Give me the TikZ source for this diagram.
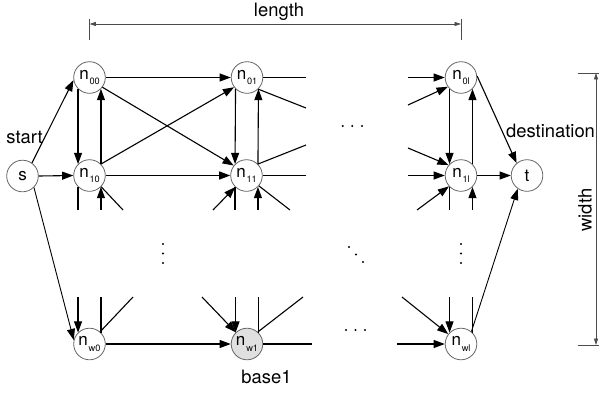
\documentclass[tikz,border=0pt]{standalone}
\usepackage{fontspec}
\setmainfont{TeX Gyre Heros}
\usetikzlibrary{arrows.meta}
\newcommand{\nsub}[1]{n\kern0.4pt\raisebox{-2.8pt}{\fontsize{4.6}{5}\selectfont #1}}
\begin{document}
\begin{tikzpicture}[x=0.5pt,y=-0.5pt,
  vtx/.style={circle,draw=black!60,line width=0.4pt,minimum size=15.8pt,inner sep=0pt,font=\fontsize{8.5}{9}\selectfont},
  arr/.style={-{Triangle[length=5.6pt,width=4pt]},line width=0.55pt},
  ln/.style={line width=0.55pt},
  dim/.style={{Triangle[length=3.2pt,width=2pt]}-{Triangle[length=3.2pt,width=2pt]},line width=0.35pt,draw=black!70},
  tickln/.style={line width=0.35pt,draw=black!70},
  lbl/.style={font=\fontsize{9.2}{10}\selectfont,inner sep=0pt},
  dotm/.style={fill=black,circle,inner sep=0pt,minimum size=1.1pt}
]
\useasboundingbox (0,0) rectangle (599,392);

% nodes
\node[vtx] (s) at (22.5,176) {s};
\node[vtx] (n00) at (89.5,77.5) {\nsub{00}};
\node[vtx] (n10) at (89.5,175.5) {\nsub{10}};
\node[vtx] (nw0) at (89.5,344) {\nsub{w0}};
\node[vtx] (n01) at (247,77.5) {\nsub{01}};
\node[vtx] (n11) at (246.5,175.5) {\nsub{11}};
\node[vtx,fill=black!12] (nw1) at (247,344) {\nsub{w1}};
\node[vtx] (n0l) at (461,77.5) {\nsub{0l}};
\node[vtx] (n1l) at (461,175.5) {\nsub{1l}};
\node[vtx] (nwl) at (461,344) {\nsub{wl}};
\node[vtx] (t) at (527,175.5) {t};

% labels
\node[lbl] (start) at (24.5,137) {start};
\node[lbl] (dest) at (550.5,130.5) {destination};
\node[lbl] (base) at (266.5,377) {base1};
\node[lbl,anchor=base] (len) at (279,16.5) {length};
\node[lbl,rotate=90] (wid) at (585,210) {width};

% helper coordinates
\coordinate (yb) at (0,210);
\coordinate (ya) at (0,297);
\coordinate (xr) at (306,0);
\coordinate (xl) at (408,0);
\coordinate (d10) at (123,210);
\coordinate (d0w) at (133,297);
\coordinate (e01d) at (306,108);
\coordinate (e11d) at (306,145);
\coordinate (f11) at (213,210);
\coordinate (g11) at (290,210);
\coordinate (f1w) at (202,297);
\coordinate (g1w) at (303,297);
\coordinate (h1w) at (312,344);
\coordinate (p0d) at (408,105);
\coordinate (p1u) at (408,148);
\coordinate (p1d) at (417,210);
\coordinate (pwd) at (402,297);
\coordinate (pwh) at (397,344);

% from s
\draw[arr] (s.54) -- (n00.189);
\draw[arr] (s.east) -- (n10.west);
\draw[arr,line width=0.45pt] (s.315) -- (nw0.166);

% column 0
\draw[arr] (n00.east) -- (n01.west);
\draw[arr] (n00.225) -- (n10.135);
\draw[arr] (n10.45) -- (n00.315);
\draw[arr] (n00.323) -- (n11.142);
\draw[arr] (n10.45) -- (n01.217);
\draw[arr,line width=0.8pt] (n10.east) -- (n11.west);
\draw[ln] (n10.225) -- (n10.225 |- yb);
\draw[arr] (n10.315 |- yb) -- (n10.315);
\draw[ln] (n10.316) -- (d10);
\draw[arr] (nw0.135 |- ya) -- (nw0.135);
\draw[ln] (nw0.45) -- (nw0.45 |- ya);
\draw[ln] (nw0.49) -- (d0w);
\draw[arr] (nw0.east) -- (nw1.west);

% column 1
\draw[arr] (n01.225) -- (n11.135);
\draw[arr] (n11.45) -- (n01.315);
\draw[ln] (n01.east) -- (n01.east -| xr);
\draw[ln] (n01.314) -- (e01d);
\draw[ln] (n11.45) -- (e11d);
\draw[ln] (n11.east) -- (n11.east -| xr);
\draw[arr] (f11) -- (n11);
\draw[ln] (n11.225) -- (n11.225 |- yb);
\draw[arr] (n11.315 |- yb) -- (n11.315);
\draw[ln] (n11.320) -- (g11);
\draw[arr] (f1w) -- (nw1);
\draw[arr] (nw1.135 |- ya) -- (nw1.135);
\draw[ln] (nw1.45) -- (nw1.45 |- ya);
\draw[ln] (nw1.48) -- (g1w);
\draw[ln] (nw1.east) -- (h1w);

% column l
\draw[arr] (n0l.west -| xl) -- (n0l.west);
\draw[arr] (p0d) -- (n0l.215);
\draw[arr] (n0l.225) -- (n1l.135);
\draw[arr] (n1l.45) -- (n0l.315);
\draw[arr] (n0l.5) -- (t.130);
\draw[arr] (p1u) -- (n1l.140);
\draw[arr] (n1l.west -| xl) -- (n1l.west);
\draw[arr] (p1d) -- (n1l.222);
\draw[ln] (n1l.225) -- (n1l.225 |- yb);
\draw[arr] (n1l.315 |- yb) -- (n1l.315);
\draw[arr] (n1l.east) -- (t.west);
\draw[arr] (pwd) -- (nwl.142);
\draw[arr] (nwl.135 |- ya) -- (nwl.135);
\draw[ln] (nwl.45) -- (nwl.45 |- ya);
\draw[arr,line width=0.45pt] (nwl.50) -- (t.235);
\draw[arr] (pwh) -- (nwl.west);

% ellipses
\foreach \x in {342.7,352.3,362}{\node[dotm] at (\x,126) {};}
\foreach \y in {244,253.5,263}{\node[dotm] at (163,\y) {};}
\foreach \x/\y in {349/247,356/254.5,363/262}{\node[dotm] at (\x,\y) {};}
\foreach \y in {244,253.5,263}{\node[dotm] at (461,\y) {};}
\foreach \x in {346,355.5,365}{\node[dotm] at (\x,330) {};}

% dimension: length
\coordinate (lenY) at (0,24);
\coordinate (tkT) at (0,19);
\coordinate (tkB) at (0,40);
\draw[tickln] (n00.center |- tkT) -- (n00.center |- tkB);
\draw[tickln] (n0l.center |- tkT) -- (n0l.center |- tkB);
\draw[dim] (n00.center |- lenY) -- (n0l.center |- lenY);

% dimension: width
\coordinate (wT) at (596,73);
\coordinate (wB) at (596,345);
\coordinate (wTl) at (578,73);
\coordinate (wBl) at (578,345);
\coordinate (wTr) at (599,73);
\coordinate (wBr) at (599,345);
\draw[tickln] (wTl) -- (wTr);
\draw[tickln] (wBl) -- (wBr);
\draw[dim] (wT) -- (wB);
\end{tikzpicture}
\end{document}
